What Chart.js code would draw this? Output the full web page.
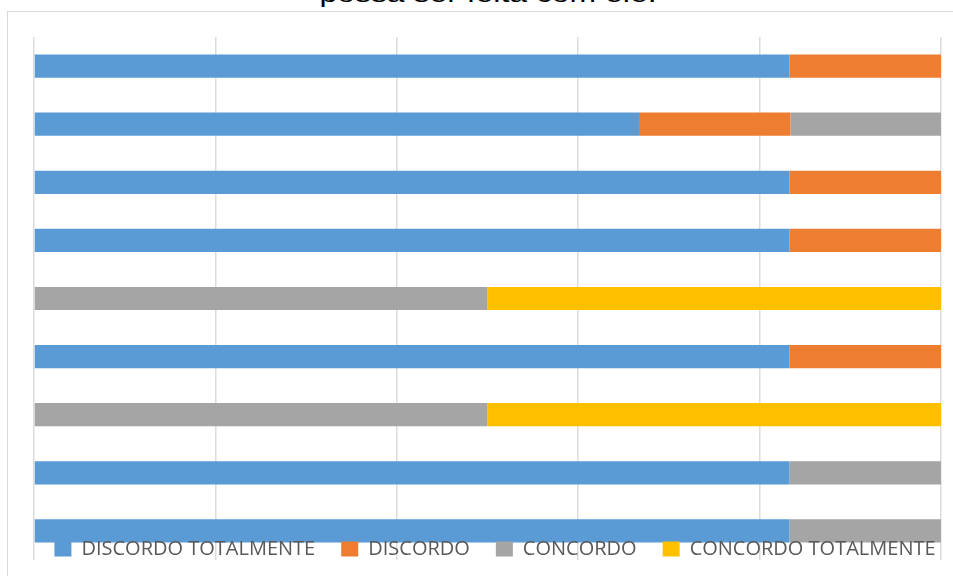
<!DOCTYPE html>
<html>
<head>
<meta charset="utf-8">
<script src="https://cdn.jsdelivr.net/npm/chart.js@4/dist/chart.umd.min.js"></script>
<style>
html,body{margin:0;padding:0;background:#fff;overflow:hidden;}
#titulo{position:absolute;left:0;width:976px;top:-20px;text-align:center;font-family:"Liberation Sans",Arial,sans-serif;font-size:24px;line-height:28px;color:#000;transform:scaleX(1.33);transform-origin:488px 0;white-space:nowrap;}
#moldura{position:absolute;left:7px;top:11px;width:1000px;height:1000px;border:1px solid #d9d9d9;}
#caixa{position:absolute;left:0;top:0;width:953px;height:576px;}
</style>
</head>
<body>
<div id="titulo">possa ser feita com ele.</div>
<div id="moldura"></div>
<div id="caixa"><canvas id="grafico"></canvas></div>
<script>
const perguntas=["1","2","3","4","5","6","7","8","9"];

// percentagens (6 respostas por pergunta)
const discordoTotalmente=[83.3,66.7,83.3,83.3,0,83.3,0,83.3,83.3];
const discordo=[16.7,16.7,16.7,16.7,0,16.7,0,0,0];
const concordo=[0,16.7,0,0,50,0,50,16.7,16.7];
const concordoTotalmente=[0,0,0,0,50,0,50,0,0];

const nomes=["DISCORDO TOTALMENTE","DISCORDO","CONCORDO","CONCORDO TOTALMENTE"];
const cores=["#5b9bd5","#ed7d31","#a5a5a5","#ffc000"];
const series=[discordoTotalmente,discordo,concordo,concordoTotalmente];

// legenda por cima das barras, sobreposta ao fundo do grafico
const legendaSobreposta={
id:"legendaSobreposta",
afterInit(chart){
const leg=chart.legend;
const fitOriginal=leg.fit;
leg.fit=function(){
this.maxWidth=2000;
fitOriginal.call(this);
this.height=16;
};
leg._layers=()=>[{z:5,draw:(area)=>leg.draw(area)}];
},
afterLayout(chart){
const leg=chart.legend;
const pad=leg.options.labels.padding;
leg.left=0;
leg.right=990;
leg.width=990;
leg.top=539-pad;
leg.bottom=576;
leg.height=leg.bottom-leg.top;
}
};

new Chart(document.getElementById("grafico"),{
type:"bar",
data:{
labels:perguntas,
datasets:series.map((s,i)=>({
label:nomes[i],
data:s,
backgroundColor:cores[i],
borderWidth:0,
categoryPercentage:1,
barPercentage:0.4
}))
},
options:{
indexAxis:"y",
responsive:true,
maintainAspectRatio:false,
animation:false,
layout:{padding:{top:37,left:34,right:12,bottom:0}},
scales:{
x:{
stacked:true,
min:0,
max:100,
ticks:{display:false,stepSize:20},
grid:{color:"#dcdcdc",lineWidth:1.5,drawTicks:false},
border:{display:false}
},
y:{
stacked:true,
display:false
}
},
plugins:{
tooltip:{enabled:false},
legend:{
position:"bottom",
labels:{
boxWidth:17,
boxHeight:15,
padding:26,
color:"#595959",
font:{family:"'Open Sans'",size:20}
}
}
}
},
plugins:[legendaSobreposta]
});
</script>
</body>
</html>
